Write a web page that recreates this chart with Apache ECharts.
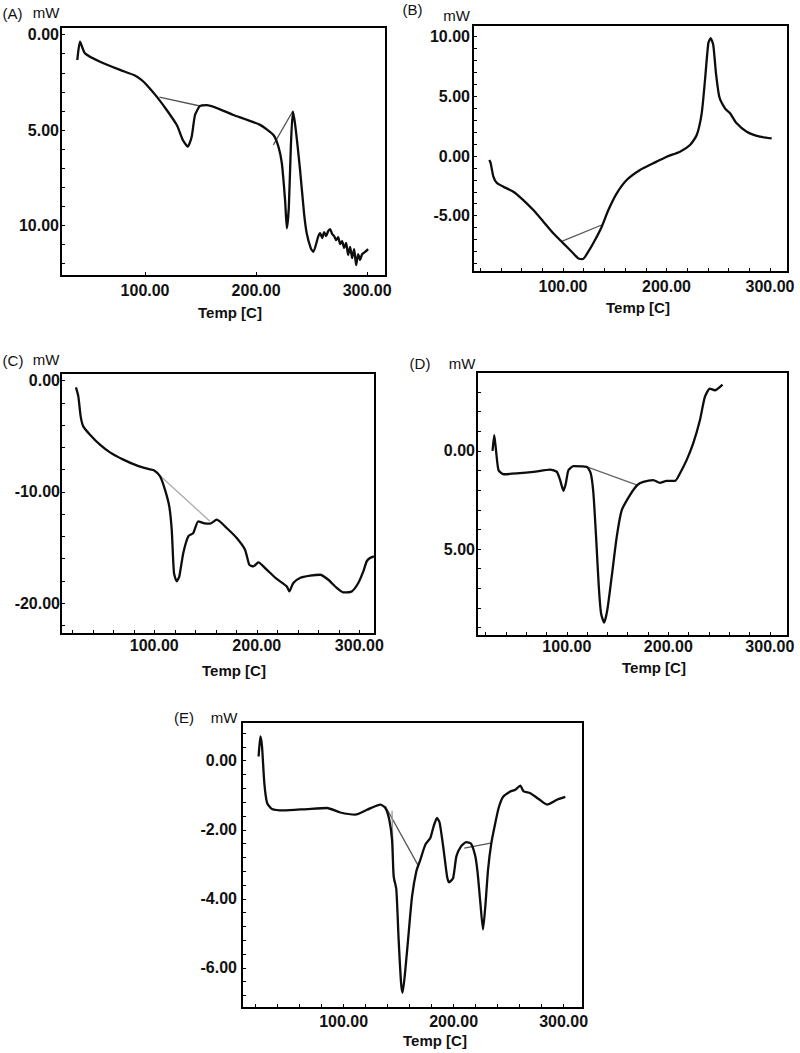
<!DOCTYPE html>
<html>
<head>
<meta charset="utf-8">
<script src="https://cdn.jsdelivr.net/npm/echarts@6/dist/echarts.min.js"></script>
<style>
html,body{margin:0;padding:0;background:#fff;}
#chart{width:800px;height:1053px;}
</style>
</head>
<body>
<div id="chart"></div>
<script>
// ---------- DATA ----------
// Panel A
const aTemp = [39.0,41.4,45.9,59.5,77.5,90.0,97.0,101.5,110.5,119.5,128.6,134.0,138.5,142.0,145.0,149.5,155.6,179.5,203.6,215.6,220.1,223.2,226.1,227.7,229.5,231.3,233.1,235.4,239.6,243.2,245.6,249.3,251.6,255.9,257.7,259.5,261.3,263.1,264.9,266.7,268.5,270.3,272.1,273.9,275.7,277.5,279.3,281.1,282.9,284.7,286.5,288.3,290.1,291.9,293.7,295.5,298.2,300.9];
const aMw   = [1.33,0.37,0.98,1.42,1.85,2.12,2.38,2.64,3.25,3.95,4.74,5.52,5.87,5.35,4.21,3.74,3.69,4.21,4.73,5.26,5.87,6.74,8.67,10.15,9.02,5.87,4.04,4.82,7.09,9.37,10.41,11.2,11.38,10.59,10.4,10.66,10.35,10.56,10.3,10.19,10.45,10.56,10.77,10.61,10.98,10.82,11.18,10.92,11.55,11.13,11.71,11.24,12.08,11.5,11.81,11.5,11.39,11.24];
const aBase1Temp = [112.9,149.5], aBase1Mw = [3.28,3.74];
const aBase2Temp = [215.6,233.1], aBase2Mw = [5.78,4.0];
// Panel B
const bTemp = [28.8,30.1,32.7,35.9,42.3,52.0,61.6,71.3,81.0,90.6,100.3,108.4,114.8,119.0,124.4,130.9,137.4,143.8,151.9,161.5,174.4,187.2,200.2,213.0,222.7,229.2,234.0,237.2,240.4,242.7,245.2,247.8,251.0,256.5,261.4,267.8,277.5,290.3,301.6];
const bMw   = [-0.34,-0.61,-1.73,-2.24,-2.57,-2.99,-3.69,-4.53,-5.5,-6.48,-7.32,-8.02,-8.58,-8.64,-8.02,-7.04,-5.92,-4.53,-3.13,-2.01,-1.17,-0.61,-0.06,0.36,0.92,1.76,3.58,6.37,9.45,9.87,9.3,6.93,4.97,4.0,3.58,2.74,2.04,1.62,1.48];
const bBaseTemp = [98.1,137.4], bBaseMw = [-7.18,-5.78];
// Panel C
const cTemp = [23.6,25.9,28.2,30.7,37.3,47.0,56.8,69.8,82.8,94.1,100.0,105.6,110.4,114.6,117.0,119.2,121.9,124.4,128.3,133.2,138.0,142.9,147.8,154.3,160.9,170.6,180.4,188.5,192.7,196.6,201.5,209.7,219.4,229.2,231.7,235.6,242.1,252.0,261.7,269.8,278.0,284.4,292.6,299.0,303.9,307.2,310.4,314.3];
const cMw   = [-0.6,-1.41,-3.21,-4.11,-4.86,-5.76,-6.45,-7.1,-7.62,-7.94,-8.07,-8.6,-9.8,-11.3,-13.4,-17.29,-18.04,-17.6,-15.5,-14.0,-13.7,-12.65,-12.8,-12.86,-12.5,-13.25,-14.15,-15.2,-16.55,-16.7,-16.34,-17.0,-17.83,-18.5,-18.95,-18.19,-17.74,-17.54,-17.45,-17.9,-18.64,-19.04,-18.95,-18.19,-17.15,-16.25,-15.95,-15.8];
const cBaseTemp = [100.0,154.3], cBaseMw = [-8.07,-12.65];
// Panel D
const dTemp = [26.8,28.5,30.2,32.7,37.7,50.8,67.2,83.6,90.2,93.4,96.7,99.0,101.6,106.5,119.7,123.6,126.2,128.8,131.5,133.7,136.7,139.9,144.2,149.2,154.1,162.2,169.4,175.3,185.2,191.7,198.3,206.5,211.4,218.0,224.5,231.1,236.0,240.9,245.8,253.4];
const dMw   = [0,-0.8,-0.04,0.98,1.19,1.15,1.07,0.95,1.07,1.49,2.03,1.66,0.98,0.78,0.81,1.15,2.17,4.37,6.92,8.27,8.75,8.1,6.41,4.37,3.02,2.25,1.74,1.58,1.49,1.63,1.53,1.53,1.15,0.47,-0.38,-1.56,-2.75,-3.17,-3.09,-3.38];
const dBaseTemp = [121.2,169.4], dBaseMw = [0.84,1.74];
// Panel E
const eTemp = [22.7,24.3,25.8,27.9,30.4,34.9,45.5,66.7,84.9,97.0,110.6,121.3,133.4,137.9,141.5,144.0,145.5,147.9,150.0,152.2,153.6,156.1,159.1,162.2,166.1,169.7,174.3,178.8,181.8,184.9,187.3,190.9,194.0,195.8,199.5,202.5,206.7,211.5,215.8,219.7,221.8,224.3,226.7,228.8,231.3,234.3,237.9,240.9,244.9,251.5,256.1,260.6,263.6,269.7,277.3,284.9,294.0,301.5];
const eMw   = [0.12,0.7,0.41,-0.65,-1.22,-1.4,-1.44,-1.4,-1.37,-1.5,-1.56,-1.42,-1.27,-1.37,-1.71,-2.29,-3.35,-3.73,-5.18,-6.43,-6.72,-6.05,-4.99,-3.93,-3.2,-2.87,-2.43,-2.24,-1.9,-1.66,-1.8,-2.58,-3.35,-3.52,-3.4,-2.77,-2.48,-2.36,-2.4,-2.77,-3.25,-4.12,-4.89,-4.22,-3.15,-2.38,-1.8,-1.37,-1.05,-0.89,-0.84,-0.72,-0.89,-0.94,-1.11,-1.27,-1.13,-1.05];
const eBase1Temp = [137.9,168.2], eBase1Mw = [-1.32,-3.06];
const eBase2Temp = [144.0,145.5], eBase2Mw = [-1.45,-3.5];
const eBase3Temp = [209.7,234.9], eBase3Mw = [-2.53,-2.38];

// Tick labels
const xLabels = [100, 200, 300];
const aYLabels = [0, 5, 10];
const bYLabels = [-5, 0, 5, 10];
const cYLabels = [0, -10, -20];
const dYLabels = [0, 5];
const eYLabels = [0, -2, -4, -6];

// ---------- helpers ----------
function zip(xs, ys) { return xs.map((x, i) => [x, ys[i]]); }
function range(a, b, s) { const r = []; for (let v = a; v <= b + 1e-9; v += s) r.push(+v.toFixed(4)); return r; }

const FONT = "'Liberation Sans', Arial, sans-serif";
const INK = '#0d0d0d';

const grids = [
  {left: 61,  top: 27,  width: 325, height: 249},
  {left: 473, top: 25,  width: 315, height: 247},
  {left: 61,  top: 373, width: 314, height: 261},
  {left: 477, top: 372, width: 311, height: 264},
  {left: 242, top: 722, width: 341, height: 286}
];

const axCfg = [
  {xmin: 24.3, xmax: 317, xt: xLabels, xm: 6, ymin: -0.4, ymax: 12.65, inv: true, yt: range(0, 12, 1), yl: aYLabels, ym: 2},
  {xmin: 13, xmax: 317.4, xt: range(20, 300, 20), xm: 6, ymin: -9.72, ymax: 10.98, inv: false, yt: range(-9, 10, 1), yl: bYLabels, ym: 3},
  {xmin: 9, xmax: 315.3, xt: range(20, 300, 20), xm: 3, ymin: -22.78, ymax: 0.69, inv: false, yt: range(-22, 0, 2), yl: cYLabels, ym: 1},
  {xmin: 11.5, xmax: 317.9, xt: range(20, 300, 20), xm: 2, ymin: -4.02, ymax: 9.43, inv: true, yt: range(-4, 9, 1), yl: dYLabels, ym: 2},
  {xmin: 7.6, xmax: 317.6, xt: range(20, 300, 20), xm: 5, ymin: -7.16, ymax: 1.12, inv: false, yt: range(-6.8, 0.8, 0.4), yl: eYLabels, ym: 5}
];

const labelStyle = {color: '#111', fontFamily: FONT, fontSize: 16, fontWeight: 'bold', formatter: v => (+v).toFixed(2)};

const xAxis = axCfg.map((c, i) => ({
  type: 'value', gridIndex: i, min: c.xmin, max: c.xmax,
  splitLine: {show: false},
  axisLine: {show: true, onZero: false, lineStyle: {color: '#000', width: 2}},
  axisTick: {show: true, inside: true, length: 4, customValues: c.xt, lineStyle: {color: '#000', width: 1}},
  axisLabel: Object.assign({margin: c.xm, customValues: xLabels}, labelStyle)
}));
const yAxis = axCfg.map((c, i) => ({
  type: 'value', gridIndex: i, min: c.ymin, max: c.ymax, inverse: c.inv,
  splitLine: {show: false},
  axisLine: {show: true, onZero: false, lineStyle: {color: '#000', width: 2}},
  axisTick: {show: true, inside: true, length: 4, customValues: c.yt, lineStyle: {color: '#000', width: 1}},
  axisLabel: Object.assign({margin: c.ym, customValues: c.yl}, labelStyle)
}));

function curve(i, t, m) {
  return {type: 'line', xAxisIndex: i, yAxisIndex: i, data: zip(t, m), showSymbol: false, symbol: 'none',
    smooth: 0.2, lineStyle: {color: INK, width: 2.3}, z: 3, silent: true};
}
function base(i, t, m, col) {
  return {type: 'line', xAxisIndex: i, yAxisIndex: i, data: zip(t, m), showSymbol: false, symbol: 'none',
    lineStyle: {color: col, width: 1.3}, z: 2, silent: true};
}

const series = [
  curve(0, aTemp, aMw), base(0, aBase1Temp, aBase1Mw, '#555'), base(0, aBase2Temp, aBase2Mw, '#555'),
  curve(1, bTemp, bMw), base(1, bBaseTemp, bBaseMw, '#555'),
  curve(2, cTemp, cMw), base(2, cBaseTemp, cBaseMw, '#aaa'),
  curve(3, dTemp, dMw), base(3, dBaseTemp, dBaseMw, '#666'),
  curve(4, eTemp, eMw), base(4, eBase1Temp, eBase1Mw, '#555'), base(4, eBase2Temp, eBase2Mw, '#999'), base(4, eBase3Temp, eBase3Mw, '#555')
];

function txt(s, x, y, w) {
  return {type: 'text', x: x, y: y, style: {text: s, fill: '#111', font: (w || 'normal') + ' 15px ' + FONT, align: 'center', verticalAlign: 'middle'}, silent: true};
}
const graphic = [
  txt('(A)', 12.5, 13), txt('mW', 46, 12), txt('Temp [C]', 230, 312, 'bold'),
  txt('(B)', 412.5, 9.5), txt('mW', 456.7, 15), txt('Temp [C]', 638, 307, 'bold'),
  txt('(C)', 13, 360), txt('mW', 46, 359), txt('Temp [C]', 234, 670, 'bold'),
  txt('(D)', 420, 363), txt('mW', 462, 363), txt('Temp [C]', 654, 667, 'bold'),
  txt('(E)', 184, 717), txt('mW', 224, 717), txt('Temp [C]', 435, 1040, 'bold')
];

const chart = echarts.init(document.getElementById('chart'), null, {renderer: 'svg', width: 800, height: 1053});
chart.setOption({
  animation: false,
  backgroundColor: '#fff',
  grid: grids.map(g => Object.assign({show: true, borderColor: '#000', borderWidth: 2, backgroundColor: 'transparent', containLabel: false, outerBoundsMode: 'none'}, g)),
  xAxis: xAxis,
  yAxis: yAxis,
  series: series,
  graphic: graphic
});
</script>
</body>
</html>
